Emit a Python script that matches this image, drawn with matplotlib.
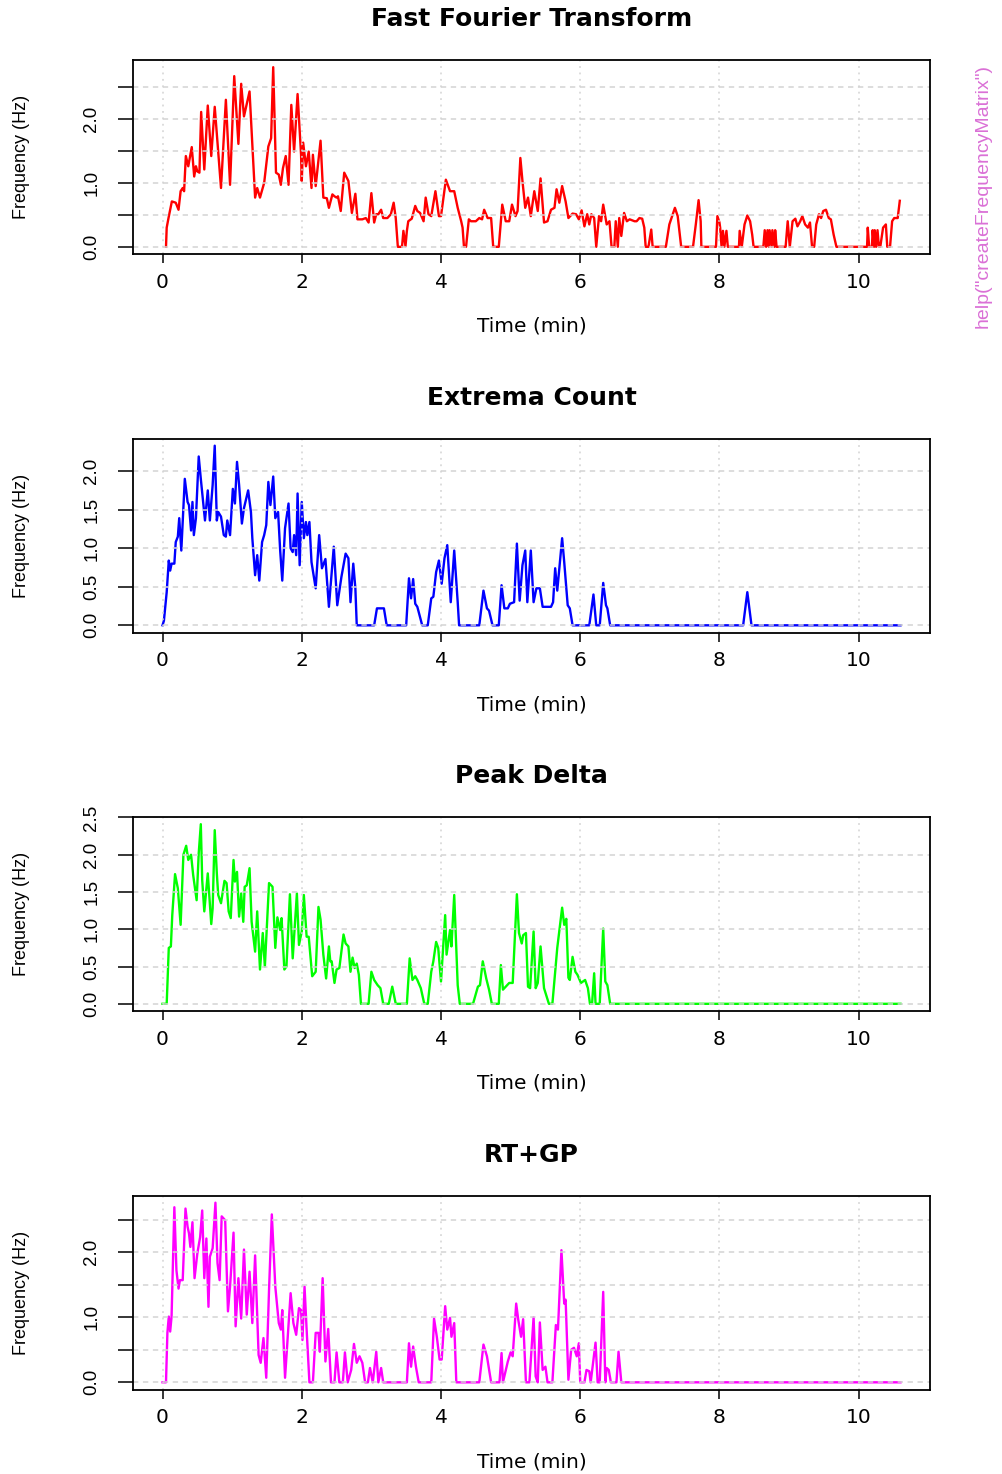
import numpy as np
import matplotlib
matplotlib.use("Agg")
from matplotlib import pyplot as plt

# Fast Fourier Transform (red)
fft_time = [0.05, 0.06, 0.086, 0.134, 0.19, 0.23, 0.26, 0.29, 0.31, 0.335, 0.37, 0.42, 0.455, 0.48, 0.50, 0.53,
            0.555, 0.60, 0.65, 0.70, 0.75, 0.84, 0.91, 0.97, 1.03, 1.09, 1.13, 1.17, 1.25, 1.33, 1.36, 1.40,
            1.46, 1.52, 1.56, 1.59, 1.63, 1.67, 1.70, 1.73, 1.77, 1.81, 1.85, 1.89, 1.94, 1.99, 2.00, 2.02,
            2.06, 2.10, 2.14, 2.16, 2.20, 2.27, 2.31, 2.36, 2.39, 2.44, 2.47, 2.50, 2.52, 2.56, 2.61, 2.67,
            2.72, 2.77, 2.80, 2.87, 2.92, 2.96, 3.00, 3.04, 3.07, 3.10, 3.14, 3.17, 3.23, 3.28, 3.32, 3.35,
            3.38, 3.44, 3.46, 3.49, 3.51, 3.53, 3.58, 3.63, 3.66, 3.70, 3.75, 3.78, 3.82, 3.86, 3.92, 3.97,
            4.00, 4.07, 4.13, 4.19, 4.24, 4.29, 4.31, 4.33, 4.36, 4.40, 4.43, 4.50, 4.55, 4.59, 4.62, 4.67,
            4.72, 4.75, 4.83, 4.88, 4.93, 4.98, 5.02, 5.07, 5.10, 5.14, 5.17, 5.21, 5.25, 5.29, 5.34, 5.39,
            5.43, 5.48, 5.53, 5.58, 5.63, 5.66, 5.70, 5.74, 5.79, 5.83, 5.89, 5.94, 5.98, 6.02, 6.06, 6.10,
            6.13, 6.16, 6.20, 6.23, 6.27, 6.30, 6.33, 6.38, 6.42, 6.45, 6.49, 6.51, 6.54, 6.56, 6.59, 6.63,
            6.67, 6.71, 6.78, 6.81, 6.85, 6.89, 6.92, 6.94, 6.98, 7.02, 7.04, 7.23, 7.28, 7.33, 7.36, 7.40,
            7.45, 7.62, 7.66, 7.70, 7.73, 7.74, 7.95, 7.97, 8.00, 8.01, 8.03, 8.05, 8.07, 8.10, 8.12, 8.28,
            8.29, 8.32, 8.36, 8.40, 8.44, 8.47, 8.49, 8.63, 8.65, 8.67, 8.69, 8.71, 8.72, 8.75, 8.76, 8.79,
            8.80, 8.82, 8.95, 8.98, 9.01, 9.05, 9.09, 9.12, 9.16, 9.19, 9.23, 9.27, 9.30, 9.33, 9.36, 9.39,
            9.43, 9.46, 9.49, 9.53, 9.57, 9.60, 9.64, 9.68, 10.05, 10.12, 10.13, 10.15, 10.19, 10.20, 10.22,
            10.23, 10.25, 10.27, 10.29, 10.31, 10.35, 10.39, 10.41, 10.45, 10.48, 10.51, 10.56, 10.59]
fft_freq = [0.0, 0.30, 0.45, 0.71, 0.69, 0.58, 0.87, 0.92, 0.87, 1.42, 1.26, 1.56, 1.10, 1.26, 1.18, 1.16,
            2.11, 1.21, 2.21, 1.42, 2.19, 0.92, 2.30, 0.97, 2.67, 1.61, 2.55, 2.04, 2.43, 0.77, 0.92, 0.77,
            1.00, 1.57, 1.70, 2.81, 1.16, 1.13, 0.97, 1.23, 1.42, 0.97, 2.22, 1.49, 2.39, 1.44, 1.03, 1.63,
            1.26, 1.49, 0.92, 1.44, 0.95, 1.66, 0.77, 0.76, 0.61, 0.82, 0.79, 0.77, 0.79, 0.56, 1.16, 1.03,
            0.53, 0.83, 0.43, 0.43, 0.45, 0.38, 0.84, 0.38, 0.51, 0.51, 0.58, 0.45, 0.45, 0.51, 0.69, 0.45,
            0.0, 0.0, 0.25, 0.01, 0.25, 0.40, 0.44, 0.64, 0.56, 0.53, 0.40, 0.77, 0.51, 0.48, 0.87, 0.48,
            0.48, 1.05, 0.87, 0.87, 0.61, 0.40, 0.30, 0.0, 0.0, 0.43, 0.40, 0.40, 0.45, 0.43, 0.58, 0.45,
            0.45, 0.0, 0.0, 0.66, 0.40, 0.40, 0.66, 0.48, 0.56, 1.39, 1.03, 0.61, 0.77, 0.48, 0.87, 0.56,
            1.07, 0.38, 0.40, 0.58, 0.61, 0.90, 0.69, 0.95, 0.71, 0.45, 0.52, 0.51, 0.43, 0.57, 0.32, 0.51,
            0.35, 0.51, 0.45, 0.0, 0.48, 0.40, 0.66, 0.35, 0.40, 0.0, 0.0, 0.40, 0.0, 0.45, 0.17, 0.53,
            0.40, 0.43, 0.40, 0.40, 0.45, 0.44, 0.30, 0.0, 0.0, 0.27, 0.0, 0.0, 0.35, 0.51, 0.61, 0.48,
            0.0, 0.0, 0.35, 0.73, 0.40, 0.0, 0.0, 0.48, 0.38, 0.30, 0.0, 0.25, 0.0, 0.25, 0.0, 0.0,
            0.25, 0.0, 0.35, 0.49, 0.40, 0.19, 0.0, 0.0, 0.26, 0.0, 0.26, 0.0, 0.26, 0.0, 0.26, 0.0,
            0.26, 0.0, 0.0, 0.40, 0.0, 0.40, 0.44, 0.32, 0.40, 0.48, 0.35, 0.30, 0.38, 0.0, 0.0, 0.35,
            0.51, 0.45, 0.56, 0.58, 0.45, 0.43, 0.19, 0.0, 0.0, 0.0, 0.30, 0.0, 0.0, 0.26, 0.0,
            0.26, 0.0, 0.26, 0.0, 0.0, 0.30, 0.35, 0.0, 0.0, 0.40, 0.45, 0.45, 0.72]

# Extrema Count (blue)
ext_time = [0.0, 0.02, 0.06, 0.09, 0.11, 0.13, 0.17, 0.19, 0.22, 0.24, 0.27, 0.32, 0.36, 0.38, 0.41, 0.43,
            0.45, 0.48, 0.52, 0.55, 0.61, 0.65, 0.68, 0.72, 0.75, 0.78, 0.80, 0.84, 0.88, 0.91, 0.93, 0.97,
            1.01, 1.04, 1.07, 1.10, 1.14, 1.17, 1.23, 1.27, 1.29, 1.33, 1.36, 1.39, 1.43, 1.46, 1.49, 1.52,
            1.55, 1.59, 1.62, 1.66, 1.69, 1.72, 1.76, 1.81, 1.84, 1.87, 1.89, 1.92, 1.94, 1.97, 2.00, 2.03,
            2.06, 2.08, 2.11, 2.14, 2.20, 2.25, 2.29, 2.34, 2.39, 2.46, 2.51, 2.57, 2.63, 2.67, 2.70, 2.74,
            2.77, 2.79, 3.04, 3.08, 3.18, 3.22, 3.50, 3.54, 3.57, 3.60, 3.63, 3.66, 3.73, 3.81, 3.86, 3.89,
            3.93, 3.97, 4.01, 4.05, 4.09, 4.14, 4.19, 4.24, 4.26, 4.55, 4.61, 4.66, 4.69, 4.74, 4.83, 4.87,
            4.91, 4.96, 4.99, 5.05, 5.09, 5.13, 5.17, 5.21, 5.24, 5.29, 5.33, 5.37, 5.42, 5.46, 5.58, 5.61,
            5.64, 5.67, 5.74, 5.77, 5.82, 5.85, 5.89, 6.13, 6.19, 6.23, 6.28, 6.33, 6.37, 6.39, 6.43, 8.34,
            8.40, 8.46, 10.6]
ext_freq = [0.0, 0.06, 0.43, 0.84, 0.71, 0.80, 0.80, 1.08, 1.15, 1.39, 0.97, 1.90, 1.60, 1.56, 1.23, 1.60,
            1.17, 1.39, 2.19, 1.90, 1.36, 1.75, 1.36, 1.82, 2.33, 1.36, 1.47, 1.41, 1.17, 1.15, 1.36, 1.17,
            1.77, 1.58, 2.12, 1.82, 1.32, 1.52, 1.75, 1.47, 1.13, 0.65, 0.91, 0.58, 1.08, 1.17, 1.30, 1.86,
            1.56, 1.93, 1.39, 1.47, 0.97, 0.58, 1.26, 1.58, 1.00, 0.95, 1.17, 0.91, 1.71, 0.78, 1.60, 1.13,
            1.34, 1.17, 1.34, 0.82, 0.48, 1.17, 0.74, 0.86, 0.24, 1.02, 0.26, 0.63, 0.93, 0.87, 0.30, 0.80,
            0.48, 0.0, 0.0, 0.22, 0.22, 0.0, 0.0, 0.61, 0.35, 0.60, 0.28, 0.24, 0.0, 0.0, 0.35, 0.37,
            0.69, 0.84, 0.54, 0.87, 1.04, 0.30, 0.97, 0.30, 0.0, 0.0, 0.45, 0.22, 0.19, 0.0, 0.0, 0.52,
            0.22, 0.22, 0.28, 0.30, 1.06, 0.32, 0.78, 0.97, 0.30, 0.97, 0.30, 0.48, 0.48, 0.24, 0.24, 0.30,
            0.74, 0.45, 1.13, 0.82, 0.26, 0.22, 0.0, 0.0, 0.40, 0.0, 0.0, 0.55, 0.26, 0.22, 0.0, 0.0,
            0.43, 0.0, 0.0]

# Peak Delta (green)
pkd_time = [0.0, 0.06, 0.09, 0.12, 0.14, 0.18, 0.22, 0.26, 0.30, 0.34, 0.37, 0.41, 0.44, 0.49, 0.52, 0.55,
            0.57, 0.60, 0.65, 0.70, 0.72, 0.75, 0.78, 0.80, 0.84, 0.89, 0.92, 0.95, 0.98, 1.02, 1.04, 1.07,
            1.10, 1.13, 1.16, 1.18, 1.21, 1.25, 1.28, 1.33, 1.36, 1.40, 1.44, 1.47, 1.53, 1.58, 1.62, 1.65,
            1.69, 1.71, 1.75, 1.78, 1.83, 1.87, 1.93, 1.96, 2.00, 2.03, 2.07, 2.10, 2.15, 2.20, 2.24, 2.27,
            2.31, 2.35, 2.39, 2.41, 2.43, 2.47, 2.50, 2.54, 2.60, 2.63, 2.67, 2.70, 2.73, 2.76, 2.79, 2.82,
            2.85, 2.96, 3.00, 3.04, 3.09, 3.13, 3.17, 3.25, 3.30, 3.35, 3.51, 3.55, 3.59, 3.63, 3.66, 3.71,
            3.76, 3.81, 3.86, 3.89, 3.93, 3.96, 4.00, 4.06, 4.08, 4.13, 4.15, 4.19, 4.24, 4.27, 4.46, 4.53,
            4.56, 4.60, 4.65, 4.69, 4.73, 4.83, 4.86, 4.89, 4.93, 4.98, 5.03, 5.09, 5.12, 5.16, 5.18, 5.22,
            5.25, 5.28, 5.33, 5.36, 5.39, 5.43, 5.48, 5.55, 5.60, 5.67, 5.74, 5.77, 5.80, 5.83, 5.85, 5.89,
            5.93, 5.96, 6.01, 6.04, 6.07, 6.11, 6.14, 6.17, 6.20, 6.22, 6.28, 6.33, 6.36, 6.39, 6.43, 10.6]
pkd_freq = [0.0, 0.0, 0.75, 0.77, 1.19, 1.74, 1.55, 1.06, 2.00, 2.12, 1.93, 2.00, 1.73, 1.39, 2.02, 2.41,
            1.66, 1.24, 1.75, 1.07, 1.28, 2.33, 1.75, 1.46, 1.35, 1.65, 1.62, 1.24, 1.15, 1.93, 1.64, 1.77,
            1.17, 1.48, 1.10, 1.57, 1.59, 1.82, 1.10, 0.70, 1.24, 0.46, 0.95, 0.50, 1.62, 1.57, 0.75, 1.16,
            0.99, 1.15, 0.46, 0.50, 1.47, 0.61, 1.48, 0.79, 0.97, 1.46, 0.90, 0.90, 0.37, 0.43, 1.30, 1.13,
            0.66, 0.34, 0.77, 0.57, 0.57, 0.28, 0.46, 0.48, 0.93, 0.81, 0.77, 0.43, 0.62, 0.48, 0.54, 0.39,
            0.0, 0.0, 0.43, 0.32, 0.25, 0.21, 0.0, 0.0, 0.23, 0.0, 0.0, 0.61, 0.32, 0.37, 0.32, 0.21,
            0.0, 0.0, 0.43, 0.57, 0.83, 0.75, 0.30, 1.19, 0.66, 0.99, 0.77, 1.46, 0.25, 0.0, 0.0, 0.23,
            0.25, 0.57, 0.34, 0.19, 0.0, 0.0, 0.52, 0.19, 0.23, 0.28, 0.28, 1.47, 0.95, 0.81, 0.92, 0.95,
            0.23, 0.21, 0.97, 0.21, 0.28, 0.77, 0.21, 0.0, 0.0, 0.75, 1.29, 1.06, 1.14, 0.35, 0.32, 0.63,
            0.43, 0.39, 0.28, 0.30, 0.32, 0.21, 0.0, 0.0, 0.41, 0.0, 0.0, 1.01, 0.30, 0.25, 0.0, 0.0]

# RT+GP (magenta)
rtgp_time = [0.0, 0.05, 0.07, 0.09, 0.11, 0.13, 0.17, 0.20, 0.23, 0.25, 0.29, 0.33, 0.36, 0.38, 0.40, 0.43,
             0.46, 0.50, 0.54, 0.57, 0.60, 0.63, 0.66, 0.68, 0.72, 0.76, 0.79, 0.82, 0.85, 0.90, 0.94, 0.97,
             1.02, 1.05, 1.09, 1.13, 1.17, 1.21, 1.25, 1.29, 1.33, 1.38, 1.41, 1.45, 1.49, 1.53, 1.57, 1.62,
             1.67, 1.70, 1.72, 1.76, 1.80, 1.84, 1.88, 1.92, 1.96, 1.99, 2.01, 2.04, 2.07, 2.11, 2.16, 2.20,
             2.24, 2.26, 2.30, 2.34, 2.38, 2.42, 2.47, 2.50, 2.54, 2.59, 2.62, 2.66, 2.71, 2.75, 2.79, 2.83,
             2.87, 2.91, 2.95, 2.98, 3.02, 3.07, 3.10, 3.14, 3.17, 3.51, 3.54, 3.57, 3.60, 3.64, 3.68, 3.86,
             3.90, 3.94, 3.98, 4.01, 4.06, 4.09, 4.13, 4.15, 4.19, 4.22, 4.55, 4.61, 4.66, 4.72, 4.84, 4.87,
             4.89, 4.96, 5.00, 5.03, 5.08, 5.11, 5.15, 5.18, 5.22, 5.27, 5.33, 5.36, 5.39, 5.42, 5.46, 5.50,
             5.53, 5.60, 5.65, 5.68, 5.73, 5.77, 5.79, 5.83, 5.87, 5.91, 5.95, 5.98, 6.00, 6.06, 6.09, 6.13,
             6.15, 6.19, 6.22, 6.25, 6.28, 6.33, 6.36, 6.38, 6.41, 6.44, 6.52, 6.55, 6.59, 10.6]
rtgp_freq = [0.0, 0.0, 0.76, 1.01, 0.78, 1.01, 2.69, 1.72, 1.44, 1.57, 1.57, 2.67, 2.39, 2.29, 2.08, 2.46,
             1.60, 1.98, 2.23, 2.64, 1.60, 2.21, 1.16, 1.93, 2.06, 2.76, 1.83, 1.57, 2.55, 2.49, 1.09, 1.47,
             2.30, 0.86, 1.60, 0.98, 2.04, 1.04, 1.70, 0.91, 1.95, 0.42, 0.30, 0.68, 0.07, 1.42, 2.58, 1.47,
             0.91, 0.81, 1.11, 0.07, 0.73, 1.37, 0.91, 0.73, 1.14, 1.11, 0.65, 1.47, 0.81, 0.0, 0.0, 0.76,
             0.76, 0.47, 1.60, 0.32, 0.82, 0.0, 0.0, 0.46, 0.0, 0.0, 0.46, 0.0, 0.19, 0.59, 0.30, 0.40,
             0.30, 0.0, 0.0, 0.22, 0.0, 0.47, 0.0, 0.22, 0.0, 0.0, 0.60, 0.24, 0.55, 0.24, 0.0, 0.0,
             0.98, 0.70, 0.35, 0.35, 1.17, 0.81, 0.99, 0.70, 0.91, 0.0, 0.0, 0.58, 0.40, 0.0, 0.0, 0.45,
             0.0, 0.32, 0.46, 0.40, 1.21, 0.96, 0.70, 0.97, 0.0, 0.0, 1.00, 0.09, 0.0, 0.92, 0.19, 0.24,
             0.0, 0.0, 0.88, 0.81, 2.03, 1.21, 1.27, 0.04, 0.50, 0.53, 0.40, 0.60, 0.0, 0.0, 0.19, 0.17,
             0.0, 0.35, 0.61, 0.0, 0.0, 1.39, 0.0, 0.22, 0.19, 0.0, 0.0, 0.47, 0.0, 0.0]

titles = ["Fast Fourier Transform", "Extrema Count", "Peak Delta", "RT+GP"]
colors = ["#FF0000", "#0000FF", "#00FF00", "#FF00FF"]
series = [(fft_time, fft_freq), (ext_time, ext_freq), (pkd_time, pkd_freq), (rtgp_time, rtgp_freq)]
label_every_other = [True, False, False, True]

W, H = 1003, 1474
fig = plt.figure(figsize=(W / 100, H / 100), dpi=100)

box_left, box_right = 133, 930
box_top0, box_h, step = 60, 194, 378.5
grid_col = "#D3D3D3"

for i, ((t, f), title, col, sparse) in enumerate(zip(series, titles, colors, label_every_other)):
    top = box_top0 + step * i
    ax = fig.add_axes([box_left / W, 1 - (top + box_h) / H, (box_right - box_left) / W, box_h / H])
    t = np.array(t)
    f = np.array(f)
    ax.plot(t, f, color=col, lw=1.7, zorder=2, solid_joinstyle="round")

    x_lo, x_hi = 0.0, 10.6
    pad_x = 0.04 * (x_hi - x_lo)
    ax.set_xlim(x_lo - pad_x, x_hi + pad_x)
    fmax = f.max()
    ax.set_ylim(-0.04 * fmax, 1.04 * fmax)

    yt = np.arange(0, 1.04 * fmax + 1e-6, 0.5)
    ax.set_yticks(yt)
    if sparse:
        ax.set_yticklabels(["%.1f" % v if abs(v - round(v)) < 1e-6 else "" for v in yt])
    else:
        ax.set_yticklabels(["%.1f" % v for v in yt])
    ax.set_xticks([0, 2, 4, 6, 8, 10])

    # grid drawn over the data, as R's grid() does
    ax.set_axisbelow(False)
    ax.xaxis.grid(True, color=grid_col, linestyle=(0, (1.2, 3.0)), lw=1.1)
    ax.yaxis.grid(True, color=grid_col, linestyle=(0, (3.5, 3.0)), lw=1.1)

    for s in ax.spines.values():
        s.set_linewidth(1.3)
        s.set_color("black")
        s.set_zorder(3)

    ax.tick_params(axis="x", length=6.5, width=1.1, pad=7, labelsize=14.5)
    ax.tick_params(axis="y", length=10.5, width=1.1, pad=13)
    for lab in ax.get_xticklabels():
        lab.set_fontfamily("DejaVu Sans")
    for lab in ax.get_yticklabels():
        lab.set_fontfamily("Liberation Sans")
        lab.set_fontsize(13.5)
        lab.set_rotation(90)
        lab.set_va("center")

    ax.text(0.5, 1 + 41 / box_h, title, transform=ax.transAxes, ha="center", va="center",
            fontsize=18, fontweight="bold", family="DejaVu Sans")
    ax.set_xlabel("Time (min)", fontsize=14.5, family="DejaVu Sans")
    ax.xaxis.label.set_va("center")
    ax.xaxis.set_label_coords(0.5, -72 / box_h)
    ax.set_ylabel("Frequency (Hz)", fontsize=13, family="Liberation Sans")
    ax.yaxis.label.set_va("center")
    ax.yaxis.set_label_coords(-(box_left - 22) / (box_right - box_left), 0.5)

fig.text(983 / W, 1 - 196 / H, 'help("createFrequencyMatrix")', rotation=90, ha="center", va="center",
         color="#DA70D6", fontsize=14, family="Liberation Sans")

fig.savefig("out.png", dpi=100, facecolor="white")
